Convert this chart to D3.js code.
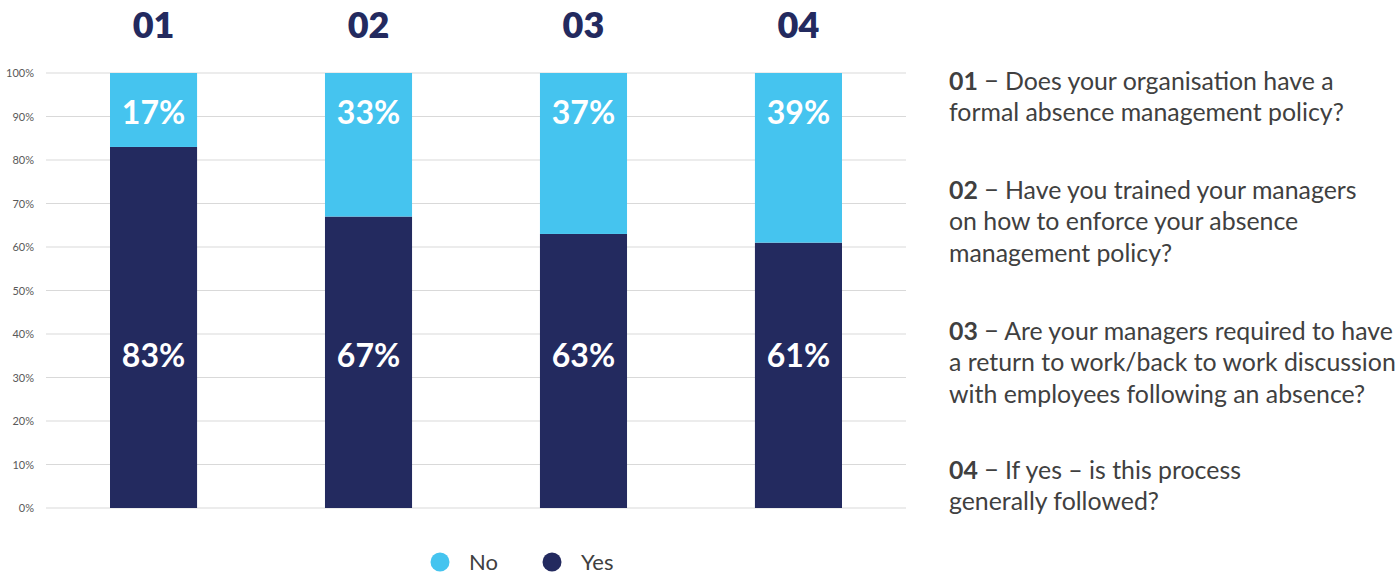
<!DOCTYPE html>
<html>
<head>
<meta charset="utf-8">
<script src="https://cdn.jsdelivr.net/npm/d3@7"></script>
<style>
  html, body { margin: 0; padding: 0; background: #ffffff; }
  svg { display: block; }
</style>
</head>
<body>
<svg id="chart" width="1399" height="576"></svg>
<script>
// Survey questions and responses (percent of respondents)
const questions = ["01", "02", "03", "04"];
const yesValues = [83, 67, 63, 61];
const noValues = [17, 33, 37, 39];
const seriesNames = ["No", "Yes"];
const seriesColors = ["#45c4ef", "#232a5f"];
const yTicks = [0, 10, 20, 30, 40, 50, 60, 70, 80, 90, 100];

// Question text shown beside the chart, one array of lines per question
const questionText = [
  ["Does your organisation have a", "formal absence management policy?"],
  ["Have you trained your managers", "on how to enforce your absence", "management policy?"],
  ["Are your managers required to have", "a return to work/back to work discussion", "with employees following an absence?"],
  ["If yes \u2013 is this process", "generally followed?"]
];

const FONT = "Lato, 'Open Sans', sans-serif";
const svg = d3.select("#chart");

const x = d3.scaleBand()
  .domain(questions)
  .range([46, 906])
  .paddingInner(0.595)
  .paddingOuter(0.2977);

const y = d3.scaleLinear().domain([0, 100]).range([508, 73]);

// Gridlines
svg.append("g")
  .selectAll("line")
  .data(yTicks)
  .join("line")
  .attr("x1", 46).attr("x2", 906)
  .attr("y1", d => y(d)).attr("y2", d => y(d))
  .attr("stroke", "#d9d9d9").attr("stroke-width", 1);

// Y axis labels
const yAxis = d3.axisLeft(y).tickValues(yTicks).tickFormat(d => d + "%").tickSize(0).tickPadding(0);
const yAxisG = svg.append("g").attr("transform", "translate(34,0)").call(yAxis);
yAxisG.select(".domain").remove();
yAxisG.selectAll("text")
  .attr("font-family", FONT)
  .attr("font-size", 11)
  .attr("fill", "#595959");

// Stacked data: Yes at the bottom, No on top
const rows = questions.map((q, i) => ({ q, Yes: yesValues[i], No: noValues[i] }));
const stack = d3.stack().keys(["Yes", "No"]);
const stacked = stack(rows);
const colorOf = { No: seriesColors[0], Yes: seriesColors[1] };

svg.append("g")
  .selectAll("g")
  .data(stacked)
  .join("g")
  .attr("fill", d => colorOf[d.key])
  .selectAll("rect")
  .data(d => d)
  .join("rect")
  .attr("x", d => x(d.data.q))
  .attr("width", x.bandwidth())
  .attr("y", d => y(d[1]))
  .attr("height", d => y(d[0]) - y(d[1]));

// Value labels inside the bars
const labelG = svg.append("g")
  .attr("font-family", FONT)
  .attr("font-weight", 700)
  .attr("font-size", 32)
  .attr("fill", "#ffffff")
  .attr("text-anchor", "middle");

labelG.selectAll("text.no")
  .data(rows)
  .join("text")
  .attr("class", "no")
  .attr("x", d => x(d.q) + x.bandwidth() / 2)
  .attr("y", y(91))
  .attr("dy", "0.36em")
  .text(d => d.No + "%");

labelG.selectAll("text.yes")
  .data(rows)
  .join("text")
  .attr("class", "yes")
  .attr("x", d => x(d.q) + x.bandwidth() / 2)
  .attr("y", y(35))
  .attr("dy", "0.36em")
  .text(d => d.Yes + "%");

// Question numbers above the bars
svg.append("g")
  .selectAll("text")
  .data(questions)
  .join("text")
  .attr("x", d => x(d) + x.bandwidth() / 2)
  .attr("y", 25)
  .attr("dy", "0.36em")
  .attr("text-anchor", "middle")
  .attr("font-family", FONT)
  .attr("font-weight", 800)
  .attr("font-size", 36)
  .attr("fill", "#232a5f")
  .text(d => d);

// Legend
const legendX = [440, 552];
const legend = svg.append("g")
  .selectAll("g")
  .data(seriesNames)
  .join("g")
  .attr("transform", (d, i) => `translate(${legendX[i]},562)`);
legend.append("circle").attr("r", 9.5).attr("fill", (d, i) => seriesColors[i]);
legend.append("text")
  .attr("x", 29)
  .attr("dy", "0.36em")
  .attr("font-family", FONT)
  .attr("font-size", 22)
  .attr("fill", "#404040")
  .text(d => d);

// Question descriptions on the right
const paraStart = [81, 190, 331, 470];
const lineH = 31.5;
const descLeft = 949;
const descRight = 1396;
const desc = svg.append("g")
  .attr("font-family", FONT)
  .attr("font-size", 22)
  .attr("fill", "#404040");

questionText.forEach((lines, i) => {
  lines.forEach((line, j) => {
    const t = desc.append("text")
      .attr("class", "desc-line")
      .attr("x", descLeft)
      .attr("y", paraStart[i] + j * lineH)
      .attr("dy", "0.36em");
    if (j === 0) {
      t.append("tspan").attr("font-weight", 700).text(questions[i]);
      t.append("tspan").text(" \u2212 " + line);
    } else {
      t.text(line);
    }
  });
});

// Size the description text so the longest line fills the column
const widest = d3.max(desc.selectAll("text.desc-line").nodes(), n => n.getComputedTextLength());
desc.attr("font-size", 22 * (descRight - descLeft) / widest);
</script>
</body>
</html>
